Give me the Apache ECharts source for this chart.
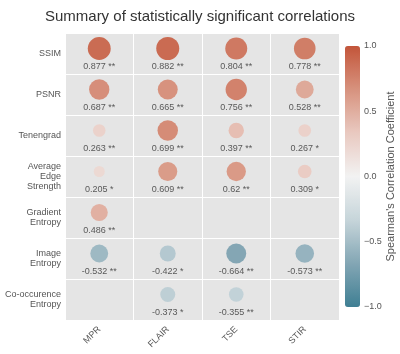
<!DOCTYPE html>
<html><head><meta charset="utf-8">
<script src="https://cdn.jsdelivr.net/npm/echarts@6/dist/echarts.min.js"></script>
<style>html,body{margin:0;padding:0;background:#fff}#c{width:400px;height:354px}</style>
</head><body><div id="c"></div>
<script>
const metrics = ['SSIM', 'PSNR', 'Tenengrad', 'Average\nEdge\nStrength', 'Gradient\nEntropy', 'Image\nEntropy', 'Co-occurence\nEntropy'];
const modalities = ['MPR', 'FLAIR', 'TSE', 'STIR'];
const valMPR   = [0.877, 0.687, 0.263, 0.205, 0.486, -0.532, null];
const valFLAIR = [0.882, 0.665, 0.699, 0.609, null, -0.422, -0.373];
const valTSE   = [0.804, 0.756, 0.397, 0.62, null, -0.664, -0.355];
const valSTIR  = [0.778, 0.528, 0.267, 0.309, null, -0.573, null];
const starMPR   = ['**', '**', '**', '*', '**', '**', null];
const starFLAIR = ['**', '**', '**', '**', null, '*', '*'];
const starTSE   = ['**', '**', '**', '**', null, '**', '**'];
const starSTIR  = ['**', '**', '*', '*', null, '**', null];

const vals = [valMPR, valFLAIR, valTSE, valSTIR];
const stars = [starMPR, starFLAIR, starTSE, starSTIR];
const pts = [];
vals.forEach((col, i) => col.forEach((v, j) => {
  if (v !== null) pts.push({value: [modalities[i], metrics[j], v], star: stars[i][j]});
}));

const FONT = 'Liberation Sans, Arial, sans-serif';
const chart = echarts.init(document.getElementById('c'), null, {renderer: 'canvas'});
chart.setOption({
  animation: false,
  backgroundColor: '#fff',
  textStyle: {fontFamily: FONT},
  title: {
    text: 'Summary of statistically significant correlations',
    left: 'center', top: 4,
    textStyle: {fontSize: 15, fontWeight: 'normal', color: '#333', fontFamily: FONT}
  },
  grid: [
    {left: 65, right: 61, top: 33, bottom: 34, show: true, backgroundColor: '#e5e5e5', borderWidth: 0},
    {left: 345, width: 15, top: 46, height: 261, show: false}
  ],
  xAxis: [
    {type: 'category', data: modalities, gridIndex: 0,
     axisLine: {show: false}, axisTick: {show: false},
     splitLine: {show: true, interval: 0, lineStyle: {color: '#fff', width: 1}},
     axisLabel: {rotate: 45, fontSize: 9, color: '#555', margin: 8, fontFamily: FONT}},
    {type: 'value', gridIndex: 1, show: false, min: 0, max: 1}
  ],
  yAxis: [
    {type: 'category', data: metrics, inverse: true, gridIndex: 0,
     axisLine: {show: false}, axisTick: {show: false},
     splitLine: {show: true, interval: 0, lineStyle: {color: '#fff', width: 1}},
     axisLabel: {fontSize: 9, color: '#555', margin: 4, lineHeight: 10, align: 'right', fontFamily: FONT}},
    {type: 'value', gridIndex: 1, position: 'right', min: -1, max: 1, interval: 0.5,
     axisLine: {show: false}, axisTick: {show: false}, splitLine: {show: false},
     axisLabel: {fontSize: 9, color: '#555', margin: 4, fontFamily: FONT,
       formatter: v => v.toFixed(1).replace('-', '\u2212')},
     name: "Spearman's Correlation Coefficient", nameLocation: 'middle', nameRotate: 90, nameGap: 25,
     nameTextStyle: {fontSize: 11, color: '#555', fontFamily: FONT}}
  ],
  visualMap: {
    type: 'continuous', min: -1, max: 1, dimension: 2, seriesIndex: 0,
    left: 345, top: 46, itemWidth: 15, itemHeight: 261, padding: 0,
    calculable: false, text: null, showLabel: false,
    inRange: {color: ['#3f7f93', '#83a6b4', '#c6d5da', '#f2f2f2', '#e9c9c0', '#d7927e', '#c3553a']}
  },
  series: [
    {type: 'scatter', xAxisIndex: 0, yAxisIndex: 0, data: pts,
     symbol: 'circle', symbolOffset: [0, -5],
     symbolSize: d => 24.5 * Math.sqrt(Math.abs(d[2])),
     itemStyle: {opacity: 1}},
    {type: 'scatter', xAxisIndex: 0, yAxisIndex: 0, data: pts, symbolSize: 0,
     silent: true,
     label: {show: true, position: 'inside', offset: [0, 13], fontSize: 9, color: '#333', fontFamily: FONT,
       formatter: p => String(p.data.value[2]) + ' ' + p.data.star}}
  ]
});
</script></body></html>
